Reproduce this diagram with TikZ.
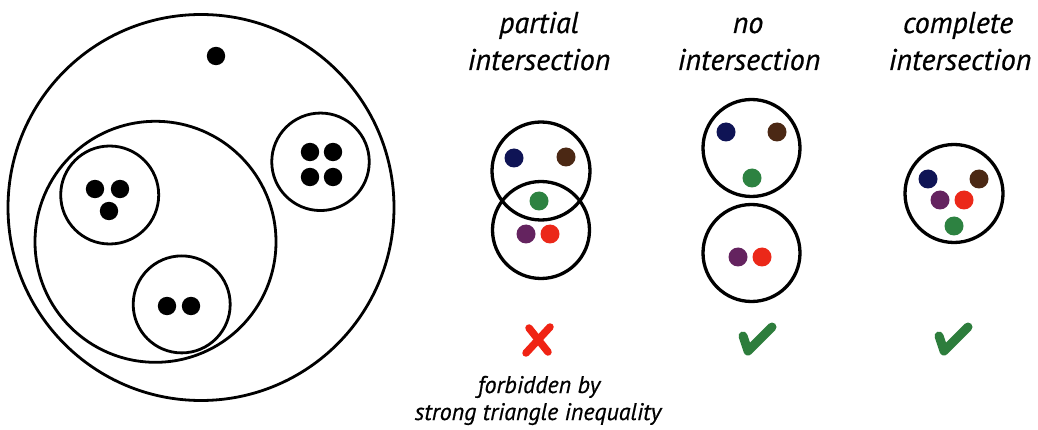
\documentclass[tikz,border=0pt]{standalone}
\usepackage{fontspec}
\setmainfont{PT Sans}[ItalicFeatures={FakeBold=0.6}]
\definecolor{dnavy}{RGB}{15,20,85}
\definecolor{dbrown}{RGB}{75,40,20}
\definecolor{dgreen}{RGB}{45,130,65}
\definecolor{dpurple}{RGB}{100,35,95}
\definecolor{dred}{RGB}{235,40,25}
\definecolor{okgreen}{RGB}{45,125,60}
\definecolor{nored}{RGB}{240,35,20}
\begin{document}
\begin{tikzpicture}[x=1pt,y=-1pt,
  ring/.style={circle,draw,line width=2.8pt,inner sep=0pt,minimum size=#1},
  cring/.style={circle,draw,line width=3.3pt,inner sep=0pt,minimum size=#1},
  head/.style={anchor=base,inner sep=0pt,font=\fontsize{30}{36}\selectfont\itshape},
  note/.style={anchor=base,inner sep=0pt,font=\fontsize{24}{28}\selectfont\itshape},
  tick/.style={draw=okgreen,line width=9pt,line cap=round,line join=round},
  cross/.style={draw=nored,line width=7.5pt,line cap=round}]
\useasboundingbox (0,0) rectangle (1038,430);

% nested sets on the left
\node[ring=386pt] (outer) at (201,207.5) {};
\node[ring=241pt] (inner) at (155.5,241.8) {};
\node[ring=98pt]  (three) at (109.7,195) {};
\node[ring=97pt]  (two)   at (181.7,304.4) {};
\node[ring=97.5pt] (four) at (320.5,161.8) {};
\foreach \p in {(216,56),(95,189),(120,189),(109,211),(167,306),(191,306),
                (310,152),(333,152),(310,177),(333,177)}
  \fill \p circle (9.2);

% partial intersection
\node[cring=98pt] (pa) at (541,171) {};
\node[cring=97pt] (pb) at (541,230) {};
\fill[dnavy]   (514,158) circle (9.5);
\fill[dbrown]  (566,157) circle (9.5);
\fill[dgreen]  (539,201) circle (9.5);
\fill[dpurple] (526,234) circle (9.5);
\fill[dred]    (550,234) circle (9.5);

% no intersection
\node[cring=97pt] (na) at (751.5,148) {};
\node[cring=97pt] (nb) at (751.5,253) {};
\fill[dnavy]   (726,132) circle (9.5);
\fill[dbrown]  (777,132) circle (9.5);
\fill[dgreen]  (752,178) circle (9.5);
\fill[dpurple] (738,257) circle (9.5);
\fill[dred]    (762,257) circle (9.5);

% complete intersection
\node[cring=98pt] (ca) at (954,193.5) {};
\fill[dnavy]   (928,179) circle (9.5);
\fill[dbrown]  (979,179) circle (9.5);
\fill[dpurple] (940,200) circle (9.5);
\fill[dred]    (964,200) circle (9.5);
\fill[dgreen]  (954,226) circle (9.5);

% headings
\node[head] (h1a) at (539,33) {partial};
\node[head] (h1b) at (539,70) {intersection};
\node[head] (h2a) at (748,33) {no};
\node[head] (h2b) at (749,70) {intersection};
\node[head] (h3a) at (958,33) {complete};
\node[head] (h3b) at (960,70) {intersection};

% verdict marks
\coordinate (x1) at (550,327);
\coordinate (x2) at (526,353);
\coordinate (x3) at (529,328);
\coordinate (x4) at (548,352);
\draw[cross] (x1) -- (x2);
\draw[cross] (x3) -- (x4);
\coordinate (t1) at (743,336);
\coordinate (t2) at (748,351);
\coordinate (t3) at (772,327);
\draw[tick] (t1) -- (t2) -- (t3);
\coordinate (u1) at (939,336);
\coordinate (u2) at (944,351);
\coordinate (u3) at (968,327);
\draw[tick] (u1) -- (u2) -- (u3);

% caption under the cross
\node[note] (n1) at (539,393) {forbidden by};
\node[note] (n2) at (538,420) {strong triangle inequality};
\end{tikzpicture}
\end{document}
